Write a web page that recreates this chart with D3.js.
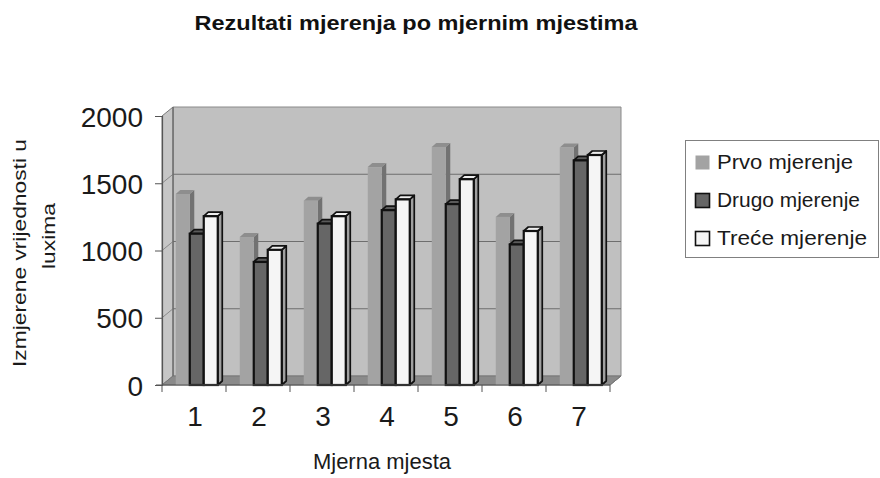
<!DOCTYPE html>
<html>
<head>
<meta charset="utf-8">
<script src="https://cdn.jsdelivr.net/npm/d3@7"></script>
<style>
  html, body { margin: 0; padding: 0; background: #ffffff; }
  svg { display: block; font-family: "Liberation Sans", Arial, sans-serif; }
</style>
</head>
<body>
<svg id="chart" width="880" height="478"></svg>
<script>
// Measurement sites and the three measurement rounds (lux)
const categories = ["1", "2", "3", "4", "5", "6", "7"];
const seriesNames = ["Prvo mjerenje", "Drugo mjerenje", "Treće mjerenje"];
const prvo  = [1420, 1100, 1370, 1620, 1770, 1250, 1765];
const drugo = [1125, 915, 1200, 1300, 1345, 1045, 1670];
const trece = [1255, 1005, 1255, 1380, 1530, 1145, 1710];
const yTicks = [0, 500, 1000, 1500, 2000];

const chartTitle = "Rezultati mjerenja po mjernim mjestima";
const xTitle = "Mjerna mjesta";
const yTitleLines = ["Izmjerene vrijednosti u", "luxima"];

const seriesValues = [prvo, drugo, trece];

// face colours per series: front, top, side, outline
const seriesStyle = [
  { front: "#a3a3a3", top: "#8e8e8e", side: "#727272", stroke: "none" },
  { front: "#666666", top: "#5a5a5a", side: "#4a4a4a", stroke: "#111111" },
  { front: "#f5f5f5", top: "#efefef", side: "#a0a0a0", stroke: "#111111" }
];

const svg = d3.select("#chart");

// front plane of the 3-D plot box
const pLeft = 162, pRight = 610, pBottom = 385, pTop = 116;
const DX = 11, DY = -9;          // depth offset of the back wall
const bdx = 4.5, bdy = -4;       // depth of each column

const x = d3.scaleBand().domain(categories).range([pLeft, pRight]);
const y = d3.scaleLinear().domain([0, 2000]).range([pBottom, pTop]);
const bw = x.bandwidth();
const inner = d3.scaleBand().domain(seriesNames)
  .range([bw * 0.215, bw * 0.215 + 42]);

const poly = pts => "M" + pts.map(p => p.join(",")).join("L") + "Z";

// ---- walls and floor ----
const box = svg.append("g");
box.append("path")   // back wall
  .attr("d", poly([[pLeft + DX, pTop + DY], [pRight + DX, pTop + DY], [pRight + DX, pBottom + DY], [pLeft + DX, pBottom + DY]]))
  .attr("fill", "#c0c0c0").attr("stroke", "#8a8a8a").attr("stroke-width", 1);
box.append("path")   // side wall
  .attr("d", poly([[pLeft, pBottom], [pLeft, pTop], [pLeft + DX, pTop + DY], [pLeft + DX, pBottom + DY]]))
  .attr("fill", "#c6c6c6").attr("stroke", "#7a7a7a").attr("stroke-width", 1);
box.append("path")   // floor
  .attr("d", poly([[pLeft, pBottom], [pRight, pBottom], [pRight + DX, pBottom + DY], [pLeft + DX, pBottom + DY]]))
  .attr("fill", "#8a8a8a").attr("stroke", "#777777").attr("stroke-width", 1);

// gridlines on the back wall and across the side wall
const grid = svg.append("g");
yTicks.filter(v => v > 0 && v < 2000).forEach(v => {
  grid.append("line")
    .attr("x1", pLeft + DX).attr("x2", pRight + DX)
    .attr("y1", y(v) + DY).attr("y2", y(v) + DY)
    .attr("stroke", "#6e6e6e").attr("stroke-width", 1);
  grid.append("line")
    .attr("x1", pLeft).attr("x2", pLeft + DX)
    .attr("y1", y(v)).attr("y2", y(v) + DY)
    .attr("stroke", "#8a8a8a").attr("stroke-width", 1);
});
// back corner edge
grid.append("line")
  .attr("x1", pLeft + DX).attr("x2", pLeft + DX)
  .attr("y1", pTop + DY).attr("y2", pBottom + DY)
  .attr("stroke", "#6a6a6a").attr("stroke-width", 1.2);

// ---- columns ----
const bars = svg.append("g");
categories.forEach((c, i) => {
  seriesNames.forEach((s, k) => {
    const v = seriesValues[k][i];
    const st = seriesStyle[k];
    const x0 = x(c) + inner(s);
    const x1 = x0 + inner.bandwidth();
    const y0 = y(0), y1 = y(v);
    const g = bars.append("g");
    const sw = st.stroke === "none" ? 0 : 1.7;
    g.append("path") // side
      .attr("d", poly([[x1, y0], [x1, y1], [x1 + bdx, y1 + bdy], [x1 + bdx, y0 + bdy]]))
      .attr("fill", st.side).attr("stroke", st.stroke).attr("stroke-width", sw)
      .attr("stroke-linejoin", "round");
    g.append("path") // top
      .attr("d", poly([[x0, y1], [x1, y1], [x1 + bdx, y1 + bdy], [x0 + bdx, y1 + bdy]]))
      .attr("fill", st.top).attr("stroke", st.stroke).attr("stroke-width", sw)
      .attr("stroke-linejoin", "round");
    g.append("rect") // front
      .attr("x", x0).attr("y", y1)
      .attr("width", x1 - x0).attr("height", y0 - y1)
      .attr("fill", st.front).attr("stroke", st.stroke).attr("stroke-width", sw * 1.3);
  });
});

// ---- axes ----
const yAxis = svg.append("g")
  .attr("transform", `translate(${pLeft},0)`)
  .call(d3.axisLeft(y).tickValues(yTicks).tickSize(7).tickPadding(12).tickFormat(d3.format("d")));
yAxis.select(".domain").attr("stroke", "#555555").attr("stroke-width", 1.2);
yAxis.selectAll(".tick line").attr("stroke", "#555555");
yAxis.selectAll(".tick text")
  .attr("font-size", 28).attr("fill", "#1a1a1a")
  .attr("font-family", "Liberation Sans, Arial, sans-serif")
  .attr("dy", "0.36em");

// floor front edge and category separators
const xg = svg.append("g");
xg.append("line")
  .attr("x1", pLeft - 6).attr("x2", pRight)
  .attr("y1", pBottom).attr("y2", pBottom)
  .attr("stroke", "#555555").attr("stroke-width", 1.2);
xg.append("line")
  .attr("x1", pRight).attr("x2", pRight + DX)
  .attr("y1", pBottom).attr("y2", pBottom + DY)
  .attr("stroke", "#777777").attr("stroke-width", 1);
d3.range(categories.length + 1).forEach(i => {
  const xx = pLeft + i * x.step();
  xg.append("line")
    .attr("x1", xx).attr("x2", xx)
    .attr("y1", pBottom).attr("y2", pBottom + 7)
    .attr("stroke", "#555555").attr("stroke-width", 1);
});
const xAxis = svg.append("g")
  .attr("transform", `translate(1,${pBottom})`)
  .call(d3.axisBottom(x).tickSize(0).tickPadding(21));
xAxis.select(".domain").remove();
xAxis.selectAll(".tick text")
  .attr("font-size", 28).attr("fill", "#1a1a1a")
  .attr("font-family", "Liberation Sans, Arial, sans-serif");

// ---- titles ----
svg.append("text")
  .attr("x", 416).attr("y", 30)
  .attr("text-anchor", "middle")
  .attr("font-size", 19.5).attr("font-weight", "bold").attr("fill", "#111111")
  .attr("textLength", 443).attr("lengthAdjust", "spacingAndGlyphs")
  .text(chartTitle);

svg.append("text")
  .attr("x", 382).attr("y", 469)
  .attr("text-anchor", "middle")
  .attr("font-size", 22).attr("fill", "#1a1a1a")
  .text(xTitle);

svg.append("text")
  .attr("transform", "translate(26,253) rotate(-90)")
  .attr("text-anchor", "middle")
  .attr("font-size", 18.5).attr("fill", "#1a1a1a")
  .attr("textLength", 228).attr("lengthAdjust", "spacingAndGlyphs")
  .text(yTitleLines[0]);
svg.append("text")
  .attr("transform", "translate(55,236) rotate(-90)")
  .attr("text-anchor", "middle")
  .attr("font-size", 18.5).attr("fill", "#1a1a1a")
  .attr("textLength", 66).attr("lengthAdjust", "spacingAndGlyphs")
  .text(yTitleLines[1]);

// ---- legend ----
const legend = svg.append("g");
legend.append("rect")
  .attr("x", 685.5).attr("y", 140.5).attr("width", 193).attr("height", 117)
  .attr("fill", "#ffffff").attr("stroke", "#808080").attr("stroke-width", 1);
const legendRows = [169, 207, 245];
const legendWidths = [136, 143, 150];
seriesNames.forEach((s, k) => {
  const st = seriesStyle[k];
  legend.append("rect")
    .attr("x", 695.5).attr("y", legendRows[k] - 13.5)
    .attr("width", 14).attr("height", 14)
    .attr("fill", st.front)
    .attr("stroke", st.stroke === "none" ? "none" : "#111111")
    .attr("stroke-width", 1.6);
  legend.append("text")
    .attr("x", 717).attr("y", legendRows[k])
    .attr("font-size", 20.5).attr("fill", "#1a1a1a")
    .attr("textLength", legendWidths[k]).attr("lengthAdjust", "spacingAndGlyphs")
    .text(s);
});
</script>
</body>
</html>
